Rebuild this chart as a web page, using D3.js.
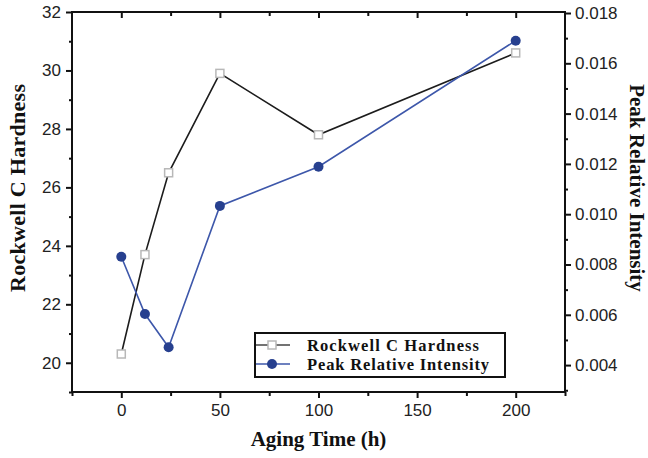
<!DOCTYPE html>
<html>
<head>
<meta charset="utf-8">
<script src="https://cdn.jsdelivr.net/npm/d3@7"></script>
<style>
  html, body { margin: 0; padding: 0; background: #fff; }
  svg { display: block; }
</style>
</head>
<body>
<svg id="chart" width="648" height="458"></svg>
<script>
// Aging time (h) for each sample
const agingTime = [0, 12, 24, 50, 100, 200];
// Rockwell C hardness (left axis)
const hardness = [20.3, 23.7, 26.5, 29.9, 27.8, 30.6];
// Peak relative intensity (right axis)
const intensity = [0.00831, 0.00603, 0.00471, 0.01033, 0.01189, 0.01690];

const xTicks = [0, 50, 100, 150, 200];
const xMinor = [-25, 25, 75, 125, 175, 225];
const hTicks = [20, 22, 24, 26, 28, 30, 32];
const hMinor = [19, 21, 23, 25, 27, 29, 31];
const iTicks = [0.004, 0.006, 0.008, 0.010, 0.012, 0.014, 0.016, 0.018];
const iMinor = [0.003, 0.005, 0.007, 0.009, 0.011, 0.013, 0.015, 0.017];

const legendLabels = ["Rockwell C Hardness", "Peak Relative Intensity"];

const box = { left: 72, right: 565, top: 12, bottom: 392 };
const BLUE_LINE = "#3d57aa";
const BLUE_DOT = "#27408f";

const svg = d3.select("#chart");

const x = d3.scaleLinear().domain([-25, 225]).range([box.left, box.right]);
const yL = d3.scaleLinear().domain([19, 32]).range([box.bottom, box.top]);
const yR = d3.scaleLinear().domain([0.00293, 0.01804]).range([box.bottom, box.top]);

const tickFont = "'Liberation Sans', Arial, sans-serif";
const titleFont = "'Liberation Serif', 'Times New Roman', serif";

function styleAxis(g) {
  g.select(".domain").remove();
  g.selectAll(".tick line").attr("stroke", "#111").attr("stroke-width", 2);
  g.selectAll(".tick text")
    .attr("font-family", tickFont)
    .attr("font-size", 17)
    .attr("fill", "#222");
}

// bottom axis: major + minor outward
svg.append("g").attr("transform", `translate(0,${box.bottom})`)
  .call(d3.axisBottom(x).tickValues(xTicks).tickFormat(d3.format("d")).tickSize(6).tickPadding(6))
  .call(styleAxis);
svg.append("g").attr("transform", `translate(0,${box.bottom})`)
  .call(d3.axisBottom(x).tickValues(xMinor).tickFormat("").tickSize(4))
  .call(styleAxis);

// top axis: inward ticks, no labels
svg.append("g").attr("transform", `translate(0,${box.top})`)
  .call(d3.axisBottom(x).tickValues(xTicks).tickFormat("").tickSize(6))
  .call(styleAxis);
svg.append("g").attr("transform", `translate(0,${box.top})`)
  .call(d3.axisBottom(x).tickValues(xMinor.filter(v => v > -25 && v < 225)).tickFormat("").tickSize(4))
  .call(styleAxis);

// left axis
svg.append("g").attr("transform", `translate(${box.left},0)`)
  .call(d3.axisLeft(yL).tickValues(hTicks).tickFormat(d3.format("d")).tickSize(6).tickPadding(5))
  .call(styleAxis);
svg.append("g").attr("transform", `translate(${box.left},0)`)
  .call(d3.axisLeft(yL).tickValues(hMinor).tickFormat("").tickSize(3))
  .call(styleAxis);

// right axis
svg.append("g").attr("transform", `translate(${box.right},0)`)
  .call(d3.axisRight(yR).tickValues(iTicks).tickFormat(d3.format(".3f")).tickSize(6).tickPadding(4))
  .call(styleAxis);
svg.append("g").attr("transform", `translate(${box.right},0)`)
  .call(d3.axisRight(yR).tickValues(iMinor).tickFormat("").tickSize(3))
  .call(styleAxis);

// plot frame
svg.append("rect")
  .attr("x", box.left).attr("y", box.top)
  .attr("width", box.right - box.left).attr("height", box.bottom - box.top)
  .attr("fill", "none").attr("stroke", "#111").attr("stroke-width", 2);

// axis titles
svg.append("text")
  .attr("transform", `translate(${(box.left + box.right) / 2},446)`)
  .attr("text-anchor", "middle")
  .attr("font-family", titleFont).attr("font-weight", "bold").attr("font-size", 21)
  .attr("fill", "#111")
  .text("Aging Time (h)");

svg.append("text")
  .attr("transform", `translate(25,188) rotate(-90)`)
  .attr("text-anchor", "middle")
  .attr("font-family", titleFont).attr("font-weight", "bold").attr("font-size", 22)
  .attr("textLength", 208).attr("lengthAdjust", "spacing")
  .attr("fill", "#111")
  .text("Rockwell C Hardness");

svg.append("text")
  .attr("transform", `translate(630,188) rotate(90)`)
  .attr("text-anchor", "middle")
  .attr("font-family", titleFont).attr("font-weight", "bold").attr("font-size", 21)
  .attr("fill", "#111")
  .text("Peak Relative Intensity");

// series lines
const hardLine = d3.line().x((d, i) => x(agingTime[i])).y(d => yL(d));
const intLine = d3.line().x((d, i) => x(agingTime[i])).y(d => yR(d));

svg.append("path").datum(hardness)
  .attr("d", hardLine).attr("fill", "none")
  .attr("stroke", "#1c1c1c").attr("stroke-width", 1.6);

svg.append("path").datum(intensity)
  .attr("d", intLine).attr("fill", "none")
  .attr("stroke", BLUE_LINE).attr("stroke-width", 1.6);

// markers
const sq = 8;
svg.append("g").selectAll("rect").data(hardness).join("rect")
  .attr("x", (d, i) => x(agingTime[i]) - sq / 2)
  .attr("y", d => yL(d) - sq / 2)
  .attr("width", sq).attr("height", sq)
  .attr("fill", "#fff").attr("stroke", "#b8b8b8").attr("stroke-width", 1.5);

svg.append("g").selectAll("circle").data(intensity).join("circle")
  .attr("cx", (d, i) => x(agingTime[i]))
  .attr("cy", d => yR(d))
  .attr("r", 5)
  .attr("fill", BLUE_DOT);

// legend
const lg = svg.append("g");
lg.append("rect")
  .attr("x", 255).attr("y", 333).attr("width", 250).attr("height", 44)
  .attr("fill", "#fff").attr("stroke", "#111").attr("stroke-width", 2);

const rows = [
  { label: legendLabels[0], color: "#444", marker: "square", y: 345, width: 172 },
  { label: legendLabels[1], color: BLUE_LINE, marker: "circle", y: 364, width: 182 }
];
rows.forEach(r => {
  lg.append("line")
    .attr("x1", 256).attr("x2", 290).attr("y1", r.y).attr("y2", r.y)
    .attr("stroke", r.color).attr("stroke-width", 1.6);
  if (r.marker === "square") {
    lg.append("rect")
      .attr("x", 272 - sq / 2).attr("y", r.y - sq / 2).attr("width", sq).attr("height", sq)
      .attr("fill", "#fff").attr("stroke", "#b8b8b8").attr("stroke-width", 1.5);
  } else {
    lg.append("circle").attr("cx", 272).attr("cy", r.y).attr("r", 5).attr("fill", BLUE_DOT);
  }
  lg.append("text")
    .attr("x", 307).attr("y", r.y + 5.5)
    .attr("font-family", titleFont).attr("font-weight", "bold").attr("font-size", 16.5)
    .attr("textLength", r.width).attr("lengthAdjust", "spacing")
    .attr("fill", "#111")
    .text(r.label);
});
</script>
</body>
</html>
